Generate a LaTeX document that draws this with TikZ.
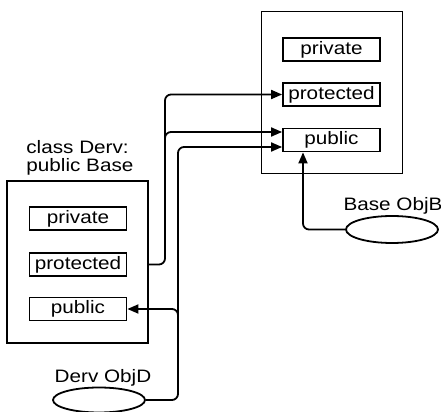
\documentclass[tikz,border=0pt]{standalone}
\usepackage{fontspec}
\setmainfont{Liberation Sans}[FakeStretch=1.15]
\usepackage{tikz}
\usetikzlibrary{shapes, positioning, arrows.meta, calc}

\begin{document}
\begin{tikzpicture}[
		x=0.5pt, y=-0.5pt,
		font=\fontsize{9}{9}\selectfont,
		classbox/.style={draw, rectangle, line width=0.9pt, minimum width=70.5pt, minimum height=81pt, inner sep=0pt},
		memberbox/.style={draw, rectangle, line width=0.9pt, minimum width=48.5pt, minimum height=11.5pt, inner sep=0pt},
		objnode/.style={draw, ellipse, line width=0.9pt, minimum width=46pt, minimum height=12.5pt, inner sep=0pt},
		link/.style={-{Triangle[length=5.5pt, width=4.5pt]}, line width=0.9pt, rounded corners=3pt}
		]
		
		\useasboundingbox (0,0) rectangle (441,412);
		
		% ----- Base class -----
		\node[classbox] (bbox) at (332, 92.5) {};
		\node[memberbox] (bpriv) at (331.5, 49.5) {private};
		\node[memberbox] (bprot) at (331.5, 94.5) {protected};
		\node[memberbox] (bpub) at (331.5, 140) {public};
		
		% ----- Derived class -----
		\node[anchor=west, align=left, inner sep=0pt] (dtitle) at (26, 158) {class Derv:\\public Base};
		\node[classbox] (dbox) at (77.5, 262) {};
		\node[memberbox] (dpriv) at (78, 218.5) {private};
		\node[memberbox] (dprot) at (78, 264.5) {protected};
		\node[memberbox] (dpub) at (78, 309) {public};
		
		% ----- Objects -----
		\node[inner sep=0pt] (objBlabel) at (393, 206) {Base ObjB};
		\node[objnode, minimum height=13.5pt] (objB) at (392, 229.5) {};
		\node[inner sep=0pt] (objDlabel) at (103, 378) {Derv ObjD};
		\node[objnode] (objD) at (99, 400) {};
		
		% Trunks
		\coordinate (trunkA) at (165, 0);
		\coordinate (trunkB) at (178, 0);
		\coordinate (bjoin) at (303, 0);
		
		% Inherited access
		\draw[link] (dprot -| dbox.east) -| (trunkA |- bprot) -- (bprot.west);
		\draw[link] (trunkA |- 0,200) |- ([yshift=4pt]bpub.west);
		
		% Object access
		\draw[link] (objD.east) -| (trunkB |- 0,147) -- ([yshift=-3.5pt]bpub.west);
		\draw[link] (trunkB |- 0,340) |- (dpub.east);
		\draw[link] (objB.west) -| (bjoin |- bpub.south);
		
	\end{tikzpicture}
\end{document}
